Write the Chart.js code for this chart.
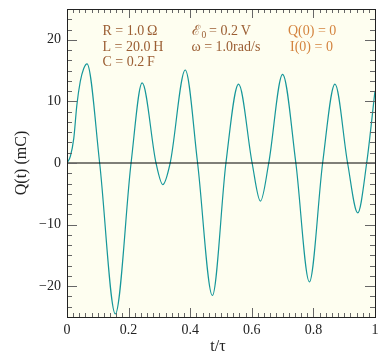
<!DOCTYPE html>
<html>
<head>
<meta charset="utf-8">
<script src="https://cdn.jsdelivr.net/npm/chart.js"></script>
<style>
  html, body { margin: 0; background: #fff; }
</style>
</head>
<body>
<canvas id="chart" width="378" height="354"></canvas>
<script>
// values
const tValues = [0, 0.011, 0.022, 0.032, 0.043, 0.054, 0.065, 0.106, 0.157, 0.208, 0.244,
                 0.289, 0.311, 0.335, 0.384, 0.424, 0.472, 0.516, 0.557, 0.601, 0.628,
                 0.655, 0.700, 0.743, 0.787, 0.830, 0.870, 0.911, 0.944, 0.973, 1.0];
const qValues = [0, 1.1, 4.0, 9.4, 13.2, 15.3, 16.1, 0, -24.5, 0, 13.0,
                 0, -3.5, 0, 15.1, 0, -21.5, 0, 12.8, 0, -6.2,
                 0, 14.4, 0, -19.3, 0, 12.8, 0, -8.1, 0, 11.7];
const xTicks = [0, 0.2, 0.4, 0.6, 0.8, 1];
const xTickLabels = ["0", "0.2", "0.4", "0.6", "0.8", "1"];
const yTicks = [-20, -10, 0, 10, 20];
const yTickLabels = ["\u221220", "\u221210", "0", "10", "20"];
const paramLines = [
  ["R = 1.0\u2009\u03A9", "L = 20.0\u2009H", "C = 0.2\u2009F"],
  ["= 0.2\u2009V", "\u03C9 = 1.0rad/s"],
  ["Q(0) = 0", "I(0) = 0"]
];

const serif = "'Liberation Serif', 'DejaVu Serif', serif";
const curveData = tValues.map((t, i) => ({ x: t, y: qValues[i] }));

function noPadding(s) {
  s.paddingLeft = 0; s.paddingRight = 0; s.paddingTop = 0; s.paddingBottom = 0;
}

const framePlugin = {
  id: "frame",
  beforeDatasetsDraw(chart) {
    const { ctx, chartArea: a } = chart;
    ctx.save();
    ctx.fillStyle = "#fefef0";
    ctx.fillRect(a.left, a.top, a.right - a.left, a.bottom - a.top);
    ctx.restore();
  },
  afterDatasetsDraw(chart) {
    const { ctx, chartArea: a, scales } = chart;
    const xs = scales.x, ys = scales.y;
    ctx.save();
    ctx.strokeStyle = "#666";
    ctx.lineWidth = 1;
    ctx.beginPath();
    for (let k = 0; k <= 50; k++) {
      const px = Math.round(xs.getPixelForValue(k * 0.02)) + 0.5;
      const len = k % 10 === 0 ? 9 : 4;
      ctx.moveTo(px, a.bottom); ctx.lineTo(px, a.bottom - len);
      ctx.moveTo(px, a.top); ctx.lineTo(px, a.top + len);
    }
    for (let k = -15; k <= 15; k++) {
      const py = Math.round(ys.getPixelForValue(k * 10 / 6)) + 0.5;
      const len = k % 6 === 0 ? 10 : 5;
      ctx.moveTo(a.left, py); ctx.lineTo(a.left + len, py);
      ctx.moveTo(a.right, py); ctx.lineTo(a.right - len, py);
    }
    ctx.stroke();
    ctx.strokeStyle = "#222";
    ctx.strokeRect(Math.round(a.left) + 0.5, Math.round(a.top) + 0.5,
                   Math.round(a.right - a.left), Math.round(a.bottom - a.top));

    // parameter annotations
    ctx.font = "14px " + serif;
    ctx.textBaseline = "middle";
    ctx.textAlign = "left";
    const rows = [31.5, 47, 62.5];
    ctx.fillStyle = "#9b5e33";
    paramLines[0].forEach((s, i) => ctx.fillText(s, 102.5, rows[i]));
    ctx.font = "14px 'DejaVu Serif', serif";
    ctx.fillText("\u2130", 191.5, rows[0]);
    ctx.font = "9.5px " + serif;
    ctx.fillText("0", 201.5, rows[0] + 4);
    ctx.font = "14px " + serif;
    ctx.fillText(paramLines[1][0], 209, rows[0]);
    ctx.fillText(paramLines[1][1], 191.5, rows[1]);
    ctx.fillStyle = "#d4843f";
    ctx.fillText(paramLines[2][0], 288, rows[0]);
    ctx.fillText(paramLines[2][1], 290, rows[1]);

    // axis titles
    ctx.fillStyle = "#222";
    ctx.font = "16px " + serif;
    ctx.textAlign = "center";
    ctx.fillText("t/\u03C4", (a.left + a.right) / 2 - 3, 347);
    ctx.translate(22, (a.top + a.bottom) / 2);
    ctx.rotate(-Math.PI / 2);
    ctx.fillText("Q(t) (mC)", 0, 0);
    ctx.restore();
  }
};

new Chart(document.getElementById("chart"), {
  type: "line",
  data: {
    datasets: [
      {
        data: [{ x: 0, y: 0 }, { x: 1, y: 0 }],
        borderColor: "#000",
        borderWidth: 1,
        pointRadius: 0
      },
      {
        data: curveData,
        borderColor: "#16979a",
        borderWidth: 1.2,
        pointRadius: 0,
        cubicInterpolationMode: "monotone"
      }
    ]
  },
  options: {
    responsive: false,
    animation: false,
    layout: { autoPadding: false, padding: { top: 9, right: 3, left: 0, bottom: 0 } },
    plugins: { legend: { display: false }, tooltip: { enabled: false } },
    scales: {
      x: {
        type: "linear",
        min: 0,
        max: 1,
        afterBuildTicks: s => { s.ticks = xTicks.map(v => ({ value: v })); },
        afterFit: s => { s.height = 37; noPadding(s); },
        grid: { display: false, drawTicks: false },
        border: { display: false },
        ticks: {
          padding: 5,
          color: "#222",
          font: { family: serif, size: 14 },
          callback: v => xTickLabels[xTicks.indexOf(v)]
        }
      },
      y: {
        min: -25,
        max: 25,
        afterBuildTicks: s => { s.ticks = yTicks.map(v => ({ value: v })); },
        afterFit: s => { s.width = 67; noPadding(s); },
        grid: { display: false, drawTicks: false },
        border: { display: false },
        ticks: {
          padding: 6,
          color: "#222",
          font: { family: serif, size: 14 },
          callback: v => yTickLabels[yTicks.indexOf(v)]
        }
      }
    }
  },
  plugins: [framePlugin]
});
</script>
</body>
</html>
